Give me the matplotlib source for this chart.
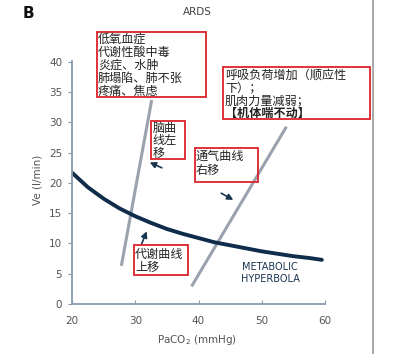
import numpy as np
import matplotlib.pyplot as plt
from matplotlib.patches import Rectangle
from matplotlib.lines import Line2D

plt.rcParams['font.family'] = ['DejaVu Sans']
cjk = ['Noto Sans CJK SC', 'DejaVu Sans']

# ---- data ----
paco2_hyp = [20, 22.5, 25, 27.5, 30, 32.5, 35, 37.5, 40, 42.5, 45, 47.5, 50, 52.5, 55, 57.5, 59.5]
ve_hyp = [21.7, 19.3, 17.4, 15.8, 14.5, 13.4, 12.4, 11.6, 10.9, 10.2, 9.7, 9.2, 8.7, 8.3, 7.9, 7.6, 7.3]

vent1_x = [27.8, 32.6]
vent1_y = [6.3, 33.7]
vent2_x = [38.9, 53.9]
vent2_y = [2.9, 29.3]

# arrows (tail -> head)
arrows = [((34.2, 22.5), (32.3, 23.4)),
          ((43.6, 18.3), (45.5, 17.2)),
          ((31.0, 9.9), (31.8, 12.0))]

xticks = [20, 30, 40, 50, 60]
yticks = [0, 5, 10, 15, 20, 25, 30, 35, 40]

W, H = 398, 354
fig = plt.figure(figsize=(W / 100, H / 100), dpi=100)
ax = fig.add_axes([72 / W, 1 - 304 / H, (325 - 72) / W, (304 - 61) / H])

spine_c = '#8a9aae'
ax.plot(vent1_x, vent1_y, color='#9aa3ad', lw=2.2, solid_capstyle='butt')
ax.plot(vent2_x, vent2_y, color='#9aa3ad', lw=2.2, solid_capstyle='butt')
ax.plot(paco2_hyp, ve_hyp, color='#0f2d4b', lw=2.8, solid_capstyle='round')

for (x0, y0), (x1, y1) in arrows:
    ax.annotate('', xy=(x1, y1), xytext=(x0, y0),
                arrowprops=dict(arrowstyle='-|>,head_length=0.35,head_width=0.18',
                                color='#1a3550', lw=1.2, shrinkA=0, shrinkB=0))

ax.text(51.3, 5.1, 'METABOLIC\nHYPERBOLA', ha='center', va='center',
        fontsize=7, color='#1a3550', linespacing=1.3)

ax.set_xlim(20, 60)
ax.set_ylim(0, 40.15)
ax.set_xticks(xticks)
ax.set_yticks(yticks)
for s in ['top', 'right']:
    ax.spines[s].set_visible(False)
for s in ['left', 'bottom']:
    ax.spines[s].set_color(spine_c)
    ax.spines[s].set_linewidth(1.3)
ax.tick_params(axis='y', direction='out', length=3, color=spine_c, labelsize=7.5,
               labelcolor='#555555', pad=4)
ax.tick_params(axis='x', direction='in', length=3, color=spine_c, labelsize=7.5,
               labelcolor='#555555', pad=9)


def px(x, y):
    return x / W, 1 - y / H


fig.text(*px(28, 13), 'B', fontsize=11, fontweight='bold', ha='center', va='center', color='#111111')
fig.text(*px(197, 12), 'ARDS', fontsize=7.5, ha='center', va='center', color='#444444')
fig.text(*px(37, 180), 'Ve (l/min)', fontsize=7.5, rotation=90, ha='center', va='center', color='#555555')
fig.text(*px(197, 340), 'PaCO$_2$ (mmHg)', fontsize=7.5, ha='center', va='center', color='#555555')

fig.add_artist(Line2D([372.7 / W, 372.7 / W], [0, 1], color='#999999', lw=1.2))

# red annotation boxes: (x0, y0, x1, y1) in pixels
boxes = [(97, 32, 206, 97), (151, 121, 185, 159), (223, 67, 370, 119),
         (195, 148, 258, 182), (134, 245, 188, 275)]
for x0, y0, x1, y1 in boxes:
    fig.add_artist(Rectangle(px(x0, y1), (x1 - x0) / W, (y1 - y0) / H,
                             fill=False, edgecolor='#d9232a', lw=1.3))

notes = [
    (98, [39, 52.2, 65.4, 78.6, 91.6], ['低氧血症', '代谢性酸中毒', '炎症、水肿', '肺塌陷、肺不张', '疼痛、焦虑'], None),
    (152.5, [128, 140.5, 153], ['脑曲', '线左', '移'], None),
    (225, [75, 88, 100.5, 113], ['呼吸负荷增加（顺应性', '下）；', '肌肉力量减弱；', '【机体喘不动】'], 3),
    (196, [156, 170], ['通气曲线', '右移'], None),
    (135, [254, 267], ['代谢曲线', '上移'], None),
]
for x, ys, lines, bold in notes:
    for i, (y, t) in enumerate(zip(ys, lines)):
        fig.text(*px(x, y), t, family=cjk, fontsize=8.7, ha='left', va='center',
                 color='#222222', fontweight='bold' if i == bold else 'normal')

fig.savefig('out.png', dpi=100, facecolor='white')
